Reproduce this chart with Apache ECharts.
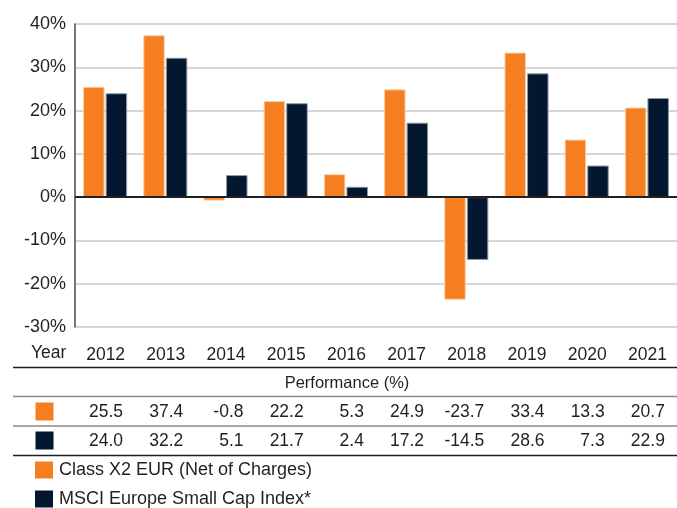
<!DOCTYPE html>
<html>
<head>
<meta charset="utf-8">
<script src="https://cdn.jsdelivr.net/npm/echarts@6/dist/echarts.min.js"></script>
<style>
  html, body { margin: 0; padding: 0; background: #fff; }
  #chart { width: 677px; height: 508px; }
</style>
</head>
<body>
<div id="chart"></div>
<script>
  const years = ["2012", "2013", "2014", "2015", "2016", "2017", "2018", "2019", "2020", "2021"];
  const classX2 = [25.5, 37.4, -0.8, 22.2, 5.3, 24.9, -23.7, 33.4, 13.3, 20.7];
  const msciIndex = [24.0, 32.2, 5.1, 21.7, 2.4, 17.2, -14.5, 28.6, 7.3, 22.9];
  const seriesNames = ["Class X2 EUR (Net of Charges)", "MSCI Europe Small Cap Index*"];
  const yTicks = { min: -30, max: 40, interval: 10 };

  const ORANGE = "#f47e20";
  const NAVY = "#03182e";
  const TEXT = "#231f20";
  const FONT = "Liberation Sans";

  const chart = echarts.init(document.getElementById("chart"), null, { renderer: "canvas" });

  // table row: one extra x axis per series, labels are the values
  function rowAxis(values, offset) {
    return {
      type: "category",
      gridIndex: 0,
      position: "bottom",
      offset: offset,
      data: values.map((v) => v.toFixed(1)),
      axisLine: { show: false },
      axisTick: { show: false },
      splitLine: { show: false },
      axisLabel: {
        interval: 0,
        margin: 18,
        formatter: (v) => "{v|" + v + "}",
        rich: {
          v: { width: 36, align: "right", fontSize: 17.5, fontFamily: FONT, color: TEXT },
        },
      },
    };
  }

  // one legend per series so they stack
  function legendRow(name, top) {
    return {
      orient: "vertical",
      left: 35,
      top: top,
      padding: 0,
      itemWidth: 18,
      itemHeight: 17,
      icon: "rect",
      itemStyle: { borderWidth: 0 },
      textStyle: { fontSize: 18, color: TEXT, fontFamily: FONT, padding: [0, 0, 0, 1] },
      data: [name],
    };
  }

  const option = {
    animation: false,
    textStyle: { fontFamily: FONT },
    grid: { left: 75, right: 0, top: 24, height: 303, containLabel: false },
    legend: [legendRow(seriesNames[0], 461), legendRow(seriesNames[1], 490)],
    xAxis: [
      {
        type: "category",
        data: years,
        axisLine: { show: false },
        axisTick: { show: false },
        axisLabel: {
          interval: 0,
          margin: 19,
          formatter: (v) => "{v|" + v + "}",
          rich: { v: { width: 40, align: "right", fontSize: 17.5, fontFamily: FONT, color: TEXT } },
        },
      },
      rowAxis(classX2, 58),
      rowAxis(msciIndex, 87),
    ],
    yAxis: {
      type: "value",
      min: yTicks.min,
      max: yTicks.max,
      interval: yTicks.interval,
      axisLine: { show: true, lineStyle: { color: "#4a4a4a", width: 1.5 } },
      axisTick: { show: false },
      splitLine: { lineStyle: { color: "#c9c9c9", width: 1.5 } },
      axisLabel: {
        margin: 9,
        fontSize: 18,
        color: TEXT,
        fontFamily: FONT,
        formatter: "{value}%",
      },
    },
    series: [
      {
        name: seriesNames[0],
        type: "bar",
        data: classX2,
        barWidth: 21.5,
        barGap: "5%",
        itemStyle: { color: ORANGE, borderColor: "#fbcfa8", borderWidth: 1 },
        markLine: {
          silent: true,
          symbol: "none",
          label: { show: false },
          lineStyle: { color: TEXT, width: 2, type: "solid" },
          data: [{ yAxis: 0 }],
        },
      },
      {
        name: seriesNames[1],
        type: "bar",
        data: msciIndex,
        barWidth: 21.5,
        itemStyle: { color: NAVY, borderColor: "#8f99a6", borderWidth: 1 },
      },
    ],
    graphic: [
      { type: "text", left: 31, top: 344, style: { text: "Year", fontSize: 17.5, fill: TEXT, fontFamily: FONT } },
      { type: "line", shape: { x1: 13, y1: 367.5, x2: 677, y2: 367.5 }, style: { stroke: TEXT, lineWidth: 1.5 } },
      { type: "text", x: 347, y: 383, style: { text: "Performance (%)", fontSize: 16.5, fill: TEXT, fontFamily: FONT, align: "center", verticalAlign: "middle" } },
      { type: "line", shape: { x1: 13, y1: 396.5, x2: 677, y2: 396.5 }, style: { stroke: "#8a8a8a", lineWidth: 1.5 } },
      { type: "rect", shape: { x: 35.5, y: 402.5, width: 18, height: 18 }, style: { fill: ORANGE } },
      { type: "line", shape: { x1: 13, y1: 426, x2: 677, y2: 426 }, style: { stroke: "#8a8a8a", lineWidth: 1.5 } },
      { type: "rect", shape: { x: 35.5, y: 431.5, width: 18, height: 18 }, style: { fill: NAVY } },
      { type: "line", shape: { x1: 13, y1: 455.5, x2: 677, y2: 455.5 }, style: { stroke: TEXT, lineWidth: 1.5 } },
    ],
  };

  chart.setOption(option);
  window.addEventListener("resize", () => chart.resize());
</script>
</body>
</html>
